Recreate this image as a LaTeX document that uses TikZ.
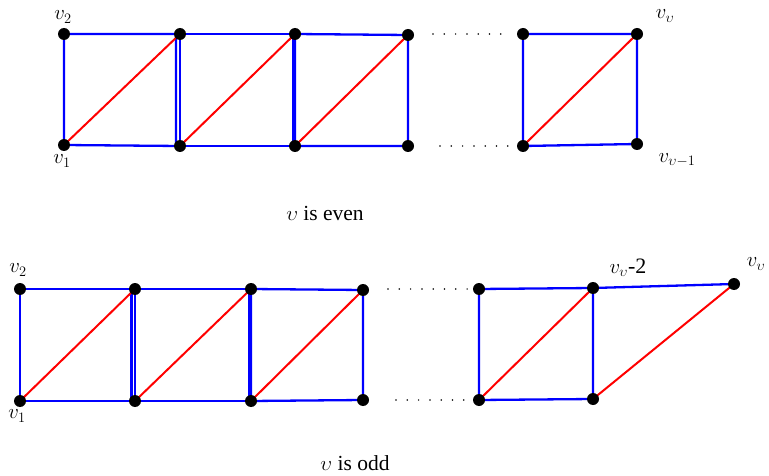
\documentclass[tikz,border=0pt]{standalone}
\usepackage{fontspec}
\setmainfont{Liberation Serif}
\begin{document}
\begin{tikzpicture}[x=1pt,y=-1pt,
  bl/.style={draw=blue,line width=2.3pt},
  rd/.style={draw=red,line width=2pt},
  vdot/.style={circle,fill=black,inner sep=0pt,minimum size=12pt},
  dotrow/.style={line width=1.7pt,dash pattern=on 0pt off 11.3pt,line cap=round},
  lab/.style={font=\fontsize{22}{26}\selectfont,inner sep=0pt},
  captxt/.style={font=\fontsize{21.5}{25}\selectfont,inner sep=0pt}]
\useasboundingbox (0,0) rectangle (769,476);
% ---------- top graph (even) ----------
\coordinate (aT1) at (64,34);  \coordinate (aB1) at (64,145);
\coordinate (aT2) at (180,34); \coordinate (aB2) at (180,146);
\coordinate (aT3) at (295,34); \coordinate (aB3) at (295,146);
\coordinate (aT4) at (408,35); \coordinate (aB4) at (408,146);
\coordinate (aT5) at (523,34); \coordinate (aB5) at (523,146);
\coordinate (aT6) at (637,34); \coordinate (aB6) at (637,144);
\coordinate (aD1) at (433,34); \coordinate (aD2) at (512,34);
\coordinate (aD3) at (440,146); \coordinate (aD4) at (512,146);
% squares
\draw[bl] (aT1) -- (aT2) (aB1) -- (aB2) (aT1) -- (aB1)
  ([xshift=-4pt]aT2) -- ([xshift=-4pt]aB2);
\draw[bl] (aT2) -- (aT3) (aB2) -- (aB3) (aT2) -- (aB2)
  ([xshift=-2pt]aT3) -- ([xshift=-2pt]aB3);
\draw[bl] (aT3) -- (aT4) (aB3) -- (aB4) (aT3) -- (aB3) (aT4) -- (aB4);
\draw[bl] (aT5) -- (aT6) (aB5) -- (aB6) (aT5) -- (aB5) (aT6) -- (aB6);
\draw[rd] (aB1) -- (aT2) (aB2) -- (aT3) (aB3) -- (aT4) (aB5) -- (aT6);
\draw[dotrow] (aD1) -- (aD2) (aD3) -- (aD4);
\foreach \n in {aT1,aB1,aT2,aB2,aT3,aB3,aT4,aB4,aT5,aB5,aT6,aB6}
  \node[vdot] (d\n) at (\n) {};
\node[lab] (la1) at (63,17) {$v_2$};
\node[lab] (la2) at (62,161) {$v_1$};
\node[lab] (la3) at (665,16) {$v_\upsilon$};
\node[lab] (la4) at (677,160) {$v_{\upsilon-1}$};
\node[captxt] (ca1) at (325,213) {$\upsilon$ is even};
% ---------- bottom graph (odd) ----------
\coordinate (bT1) at (20,289);  \coordinate (bB1) at (20,401);
\coordinate (bT2) at (135,289); \coordinate (bB2) at (135,401);
\coordinate (bT3) at (251,289); \coordinate (bB3) at (251,401);
\coordinate (bT4) at (363,290); \coordinate (bB4) at (363,400);
\coordinate (bT5) at (479,289); \coordinate (bB5) at (479,400);
\coordinate (bT6) at (593,288); \coordinate (bB6) at (593,399);
\coordinate (bV) at (734,284);
\coordinate (bD1) at (388,289); \coordinate (bD2) at (470,289);
\coordinate (bD3) at (396,400); \coordinate (bD4) at (470,400);
\draw[bl] (bT1) -- (bT2) (bB1) -- (bB2) (bT1) -- (bB1)
  ([xshift=-3.5pt]bT2) -- ([xshift=-3.5pt]bB2);
\draw[bl] (bT2) -- (bT3) (bB2) -- (bB3) (bT2) -- (bB2)
  ([xshift=-2.2pt]bT3) -- ([xshift=-2.2pt]bB3);
\draw[bl] (bT3) -- (bT4) (bB3) -- (bB4) (bT3) -- (bB3) (bT4) -- (bB4);
\draw[bl] (bT5) -- (bT6) (bB5) -- (bB6) (bT5) -- (bB5) (bT6) -- (bB6)
  (bT6) -- (bV);
\draw[rd] (bB1) -- (bT2) (bB2) -- (bT3) (bB3) -- (bT4) (bB5) -- (bT6)
  (bB6) -- (bV);
\draw[dotrow] (bD1) -- (bD2) (bD3) -- (bD4);
\foreach \n in {bT1,bB1,bT2,bB2,bT3,bB3,bT4,bB4,bT5,bB5,bT6,bB6,bV}
  \node[vdot] (d\n) at (\n) {};
\node[lab] (lb1) at (18,270) {$v_2$};
\node[lab] (lb2) at (17,416) {$v_1$};
\node[lab] (lb3) at (628,268) {$v_\upsilon$-2};
\node[lab] (lb4) at (756,264) {$v_\upsilon$};
\node[captxt] (cb1) at (355,463) {$\upsilon$ is odd};
\end{tikzpicture}
\end{document}
